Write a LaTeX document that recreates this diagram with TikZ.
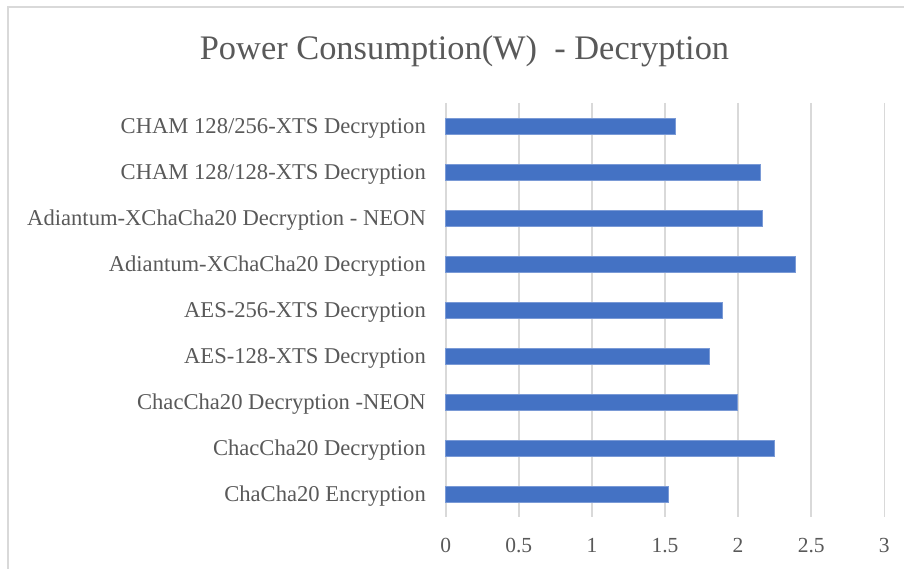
\documentclass[tikz,border=0pt]{standalone}
\usepackage{fontspec}
\setmainfont{Liberation Serif}
\usepackage{tikz}
\usetikzlibrary{
    positioning,
    calc
}
\usepackage{xcolor}
\definecolor{barblue}{HTML}{4472C4}
\definecolor{barline}{HTML}{7A9AD6}
\definecolor{gridgray}{HTML}{D9D9D9}
\definecolor{textgray}{HTML}{595959}

\begin{document}
\begin{tikzpicture}[x=1pt, y=-1pt]
  \useasboundingbox (0,0) rectangle (904,569);

  % Define styles for the chart:
  \tikzset{
    frameline/.style={gridgray, line width=2pt},
    gridline/.style={gridgray, line width=1.6pt},
    bar/.style={fill=barblue, draw=barline, line width=0.6pt},
    catlabel/.style={anchor=base east, inner sep=0pt, text=textgray, font=\fontsize{22.6}{26}\selectfont},
    ticklabel/.style={anchor=base, inner sep=0pt, text=textgray, font=\fontsize{21.5}{25}\selectfont},
    charttitle/.style={anchor=base, inner sep=0pt, text=textgray, font=\fontsize{34.4}{40}\selectfont}
  };

  % Chart area frame (cut off at right and bottom)
  \draw[frameline] (8,569) -- (8,7) -- (904,7);

  % Title
  \node[charttitle] (title) at (464.5,60) {Power Consumption(W) \ - Decryption};

  % Category labels, one per bar (baseline sits 7.5 below the bar centre)
  \node[catlabel] (l1) at (426,133.5) {CHAM 128/256-XTS Decryption};
  \node[catlabel] (l2) at (426,179.5) {CHAM 128/128-XTS Decryption};
  \node[catlabel] (l3) at (426,225.5) {Adiantum-XChaCha20 Decryption - NEON};
  \node[catlabel] (l4) at (426,271.5) {Adiantum-XChaCha20 Decryption};
  \node[catlabel] (l5) at (426,317.5) {AES-256-XTS Decryption};
  \node[catlabel] (l6) at (426,363.5) {AES-128-XTS Decryption};
  \node[catlabel] (l7) at (426,409.5) {ChacCha20 Decryption -NEON};
  \node[catlabel] (l8) at (426,455.5) {ChacCha20 Decryption};
  \node[catlabel] (l9) at (426,501.5) {ChaCha20 Encryption};

  % Plot area: x in Watts, 0 at the axis
  \begin{scope}[xshift=445.7pt, x=146.2pt]
    % Vertical gridlines
    \draw[gridline] (0,103) -- (0,517);
    \draw[gridline] (0.5,103) -- (0.5,517);
    \draw[gridline] (1,103) -- (1,517);
    \draw[gridline] (1.5,103) -- (1.5,517);
    \draw[gridline] (2,103) -- (2,517);
    \draw[gridline] (2.5,103) -- (2.5,517);
    \draw[gridline] (3,103) -- (3,517);

    % Tick labels
    \node[ticklabel] (t0) at (0,552.5) {0};
    \node[ticklabel] (t05) at (0.5,552.5) {0.5};
    \node[ticklabel] (t1) at (1,552.5) {1};
    \node[ticklabel] (t15) at (1.5,552.5) {1.5};
    \node[ticklabel] (t2) at (2,552.5) {2};
    \node[ticklabel] (t25) at (2.5,552.5) {2.5};
    \node[ticklabel] (t3) at (3,552.5) {3};

    % Bars
    \draw[bar] (0,118) rectangle (1.568,134);
    \draw[bar] (0,164) rectangle (2.155,180);
    \draw[bar] (0,210) rectangle (2.166,226);
    \draw[bar] (0,256) rectangle (2.394,272);
    \draw[bar] (0,302) rectangle (1.890,318);
    \draw[bar] (0,348) rectangle (1.800,364);
    \draw[bar] (0,394) rectangle (1.997,410);
    \draw[bar] (0,440) rectangle (2.248,456);
    \draw[bar] (0,486) rectangle (1.525,502);
  \end{scope}
\end{tikzpicture}
\end{document}
